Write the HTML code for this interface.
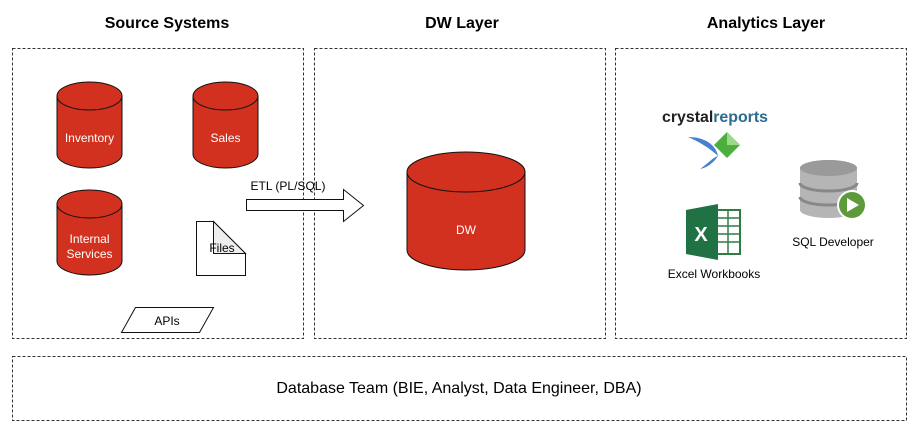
<!DOCTYPE html>
<html><head><meta charset="utf-8"><style>html,body{margin:0;padding:0;background:#fff}svg{display:block}</style></head><body>
<svg width="914" height="431" viewBox="0 0 914 431" xmlns="http://www.w3.org/2000/svg" font-family="'Liberation Sans', Arial, sans-serif">
<g font-weight="bold" font-size="16" text-anchor="middle" fill="#000">
<text x="167" y="28">Source Systems</text>
<text x="462" y="28">DW Layer</text>
<text x="766" y="28">Analytics Layer</text>
</g>
<g fill="none" stroke="#333" stroke-dasharray="3,2" stroke-width="1">
<rect x="12.5" y="48.5" width="291" height="290"/>
<rect x="314.5" y="48.5" width="291" height="290"/>
<rect x="615.5" y="48.5" width="291" height="290"/>
<rect x="12.5" y="356.5" width="894" height="64"/>
</g>
<text x="459" y="393" font-size="16" text-anchor="middle">Database Team (BIE, Analyst, Data Engineer, DBA)</text>
<g fill="#d3311f" stroke="#111" stroke-width="1">
<path d="M57 96 A32.5 14 0 0 1 122 96 L122 154 A32.5 14 0 0 1 57 154 Z"/><path d="M57 96 A32.5 14 0 0 0 122 96" fill="none"/>
<path d="M193 96 A32.5 14 0 0 1 258 96 L258 154 A32.5 14 0 0 1 193 154 Z"/><path d="M193 96 A32.5 14 0 0 0 258 96" fill="none"/>
<path d="M57 204 A32.5 14 0 0 1 122 204 L122 261 A32.5 14 0 0 1 57 261 Z"/><path d="M57 204 A32.5 14 0 0 0 122 204" fill="none"/>
<path d="M407 172 A59 20 0 0 1 525 172 L525 250 A59 20 0 0 1 407 250 Z"/><path d="M407 172 A59 20 0 0 0 525 172" fill="none"/>
</g>
<g fill="#fff" font-size="12" text-anchor="middle">
<text x="89.5" y="142">Inventory</text>
<text x="225.5" y="142">Sales</text>
<text x="89.5" y="243">Internal</text>
<text x="89.5" y="258">Services</text>
<text x="466" y="234">DW</text>
</g>
<path d="M196.5 221.5 L213.5 221.5 L245.5 253.5 L245.5 275.5 L196.5 275.5 Z" fill="#fff" stroke="#111"/>
<path d="M213.5 221.5 L213.5 253.5 L245.5 253.5 Z" fill="#eee" stroke="#111"/>
<text x="222" y="252" font-size="12" text-anchor="middle">Files</text>
<path d="M121.5 332.5 L135.5 307.5 L213.5 307.5 L199.5 332.5 Z" fill="#fff" stroke="#111"/>
<text x="167" y="325" font-size="12" text-anchor="middle">APIs</text>
<path d="M246.5 199.5 L343.5 199.5 L343.5 189.5 L363.5 205.5 L343.5 221.5 L343.5 210.5 L246.5 210.5 Z" fill="#fff" stroke="#111"/>
<text x="288" y="190" font-size="12" text-anchor="middle">ETL (PL/SQL)</text>
<text x="662" y="122" font-size="16" font-weight="bold" fill="#222" textLength="106" lengthAdjust="spacingAndGlyphs">crystal<tspan fill="#2a6b8f">reports</tspan></text>
<path d="M688 137 C705 137 716 145 718 156 C712 150 700 142 688 137 Z M718 156 C712 165 705 168 700 169 C710 162 712 158 718 156Z" fill="#4a7fd0"/>
<path d="M727 132 L740 145 L727 158 L714 145 Z" fill="#4cae3c"/><path d="M727 132 L740 145 L727 145 Z" fill="#9ad88a"/>
<rect x="702" y="210" width="38" height="44" fill="#fff" stroke="#2f7d45" stroke-width="2"/>
<g stroke="#2f7d45" stroke-width="1.5"><line x1="718" y1="218" x2="740" y2="218"/><line x1="718" y1="226" x2="740" y2="226"/><line x1="718" y1="234" x2="740" y2="234"/><line x1="718" y1="242" x2="740" y2="242"/><line x1="728" y1="210" x2="728" y2="254"/></g>
<path d="M686 210 L718 204 L718 260 L686 254 Z" fill="#207245"/>
<text x="701" y="241" font-size="20" font-weight="bold" fill="#fff" text-anchor="middle">X</text>
<text x="714" y="278" font-size="12" text-anchor="middle">Excel Workbooks</text>
<path d="M800 168 A28.5 8 0 0 1 857 168 L857 210 A28.5 8 0 0 1 800 210 Z" fill="#b5b5b5"/>
<ellipse cx="828.5" cy="168" rx="28.5" ry="8" fill="#9a9a9a"/>
<path d="M800 183 A28.5 8 0 0 0 857 183 M800 197 A28.5 8 0 0 0 857 197" stroke="#888" stroke-width="3" fill="none"/>
<circle cx="852" cy="205" r="15" fill="#fff"/><circle cx="852" cy="205" r="13" fill="#5c9a3a"/>
<path d="M847 198 L859 205 L847 212 Z" fill="#fff"/>
<text x="833" y="246" font-size="12" text-anchor="middle">SQL Developer</text>
</svg>
</body></html>
